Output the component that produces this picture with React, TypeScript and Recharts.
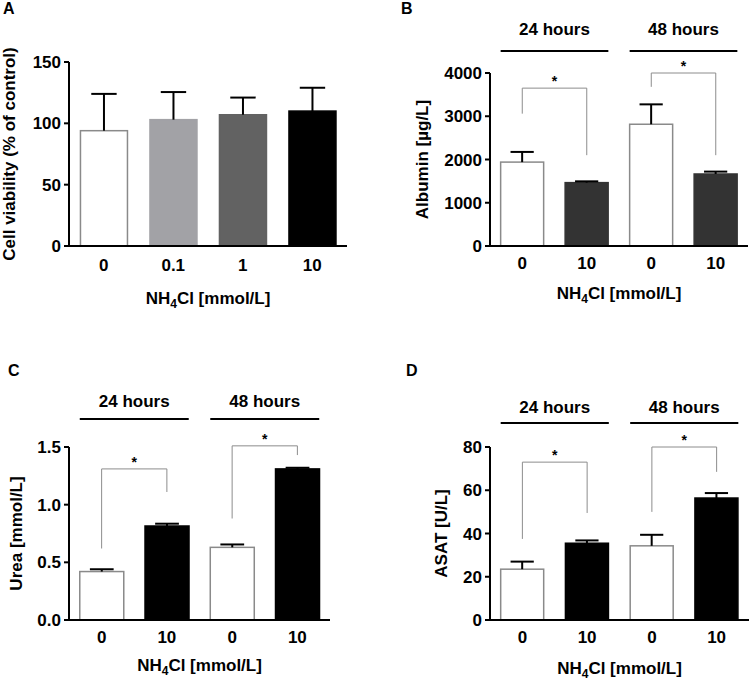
import React from 'react';
import { BarChart, Bar, XAxis, YAxis, ReferenceLine, Cell } from 'recharts';

const FONT = '"Liberation Sans", Arial, Helvetica, sans-serif';

// A: cell viability
const doseLabels = ['0', '0.1', '1', '10'];
const viabilityMean = [94, 103, 107, 110];
const viabilitySd = [30, 22.5, 14, 19];
const viabilityTicks = [0, 50, 100, 150];
const viabilityColors = ['#ffffff', '#a2a2a6', '#626262', '#000000'];

// B-D: two time points, control vs 10 mmol/L
const barIds = ['g1c', 'g1t', 'g2c', 'g2t'];
const nh4Labels = ['0', '10', '0', '10'];
const timeGroups = ['24 hours', '24 hours', '48 hours', '48 hours'];

const albuminMean = [1940, 1465, 2815, 1665];
const albuminSd = [235, 30, 460, 55];
const albuminTicks = [0, 1000, 2000, 3000, 4000];
const albuminColors = ['#ffffff', '#333333', '#ffffff', '#333333'];

const ureaMean = [0.42, 0.815, 0.63, 1.31];
const ureaSd = [0.02, 0.02, 0.025, 0.01];
const ureaTicks = [0, 0.5, 1.0, 1.5];

const asatMean = [23.5, 35.5, 34.3, 56.4];
const asatSd = [3.5, 1.3, 5.1, 2.3];
const asatTicks = [0, 20, 40, 60, 80];

const bwColors = ['#ffffff', '#000000', '#ffffff', '#000000'];

// significance brackets: top of bracket, end of left leg, end of right leg
type Sig = { from: string; to: string; top: number; left: number; right: number };
const albuminSig: Sig[] = [
  { from: 'g1c', to: 'g1t', top: 3650, left: 3060, right: 2100 },
  { from: 'g2c', to: 'g2t', top: 4000, left: 3680, right: 2100 },
];
const ureaSig: Sig[] = [
  { from: 'g1c', to: 'g1t', top: 1.31, left: 0.62, right: 1.11 },
  { from: 'g2c', to: 'g2t', top: 1.51, left: 0.88, right: 1.43 },
];
const asatSig: Sig[] = [
  { from: 'g1c', to: 'g1t', top: 73, left: 37.5, right: 49.5 },
  { from: 'g2c', to: 'g2t', top: 80, left: 50, right: 68.5 },
];

const buildRows = (ids: string[], labels: string[], mean: number[], sd: number[], groups?: string[]) =>
  ids.map((id, i) => ({ id, label: labels[i], mean: mean[i], sd: sd[i], group: groups ? groups[i] : '' }));

const viabilityData = buildRows(doseLabels, doseLabels, viabilityMean, viabilitySd);
const albuminData = buildRows(barIds, nh4Labels, albuminMean, albuminSd, timeGroups);
const ureaData = buildRows(barIds, nh4Labels, ureaMean, ureaSd, timeGroups);
const asatData = buildRows(barIds, nh4Labels, asatMean, asatSd, timeGroups);

const BarWithError = (props: any) => {
  const { x, y, width, height, payload, fill } = props;
  const perUnit = payload.mean ? height / payload.mean : 0;
  const top = y - payload.sd * perUnit;
  const cx = x + width / 2;
  const cap = width * 0.27;
  const white = fill === '#ffffff';
  return (
    <g>
      <rect x={x} y={y} width={width} height={height} fill={fill} stroke={white ? '#8a8a8a' : fill} strokeWidth={1.5} />
      <line x1={cx} x2={cx} y1={y} y2={top} stroke="#000" strokeWidth={2} />
      <line x1={cx - cap} x2={cx + cap} y1={top} y2={top} stroke="#000" strokeWidth={2} />
    </g>
  );
};

const GroupTick = (props: any) => {
  const { x, y, payload, half, textDy, lineDy } = props;
  return (
    <g>
      <text x={x} y={y + textDy} textAnchor="middle" fontFamily={FONT} fontWeight="bold" fontSize={17} fill="#000">
        {payload.value}
      </text>
      <line x1={x - half} x2={x + half} y1={y + lineDy} y2={y + lineDy} stroke="#000" strokeWidth={2} />
    </g>
  );
};

interface PanelProps {
  width: number;
  height: number;
  data: any[];
  colors: string[];
  ticks: number[];
  tickFmt?: (v: number) => string;
  yLabel: string;
  yLabelOffset: number;
  xLabelDy: number;
  xTickMargin: number;
  margin: { top: number; right: number; bottom: number; left: number };
  yAxisWidth: number;
  groups?: { textDy: number; lineDy: number };
  sig?: Sig[];
}

const tickStyle = { fill: '#000', fontSize: 17, fontWeight: 'bold', fontFamily: FONT };

const Panel = (p: PanelProps) => {
  const plotW = p.width - p.margin.left - p.margin.right - p.yAxisWidth;
  const labelOf: Record<string, string> = {};
  p.data.forEach((d) => (labelOf[d.id] = d.label));
  const bracket = { stroke: '#8c8c8c', strokeWidth: 1, ifOverflow: 'visible' as const, isFront: true };
  return (
    <BarChart width={p.width} height={p.height} data={p.data} margin={p.margin} barCategoryGap="16.5%">
      {p.groups && (
        <XAxis
          xAxisId="grp"
          orientation="top"
          dataKey="group"
          allowDuplicatedCategory={false}
          axisLine={false}
          tickLine={false}
          tickSize={0}
          tickMargin={0}
          height={50}
          interval={0}
          tick={(t: any) => <GroupTick {...t} half={(plotW / 4) * 0.835} textDy={p.groups!.textDy} lineDy={p.groups!.lineDy} />}
        />
      )}
      <XAxis
        dataKey="id"
        tickFormatter={(v: string) => labelOf[v]}
        axisLine={{ stroke: '#000', strokeWidth: 2 }}
        tickLine={false}
        tickSize={6}
        tickMargin={p.xTickMargin}
        height={30}
        interval={0}
        tick={tickStyle}
        label={(l: any) => {
          const vb = l.viewBox;
          return (
            <text x={vb.x + vb.width / 2} y={vb.y + p.xLabelDy} textAnchor="middle" fontFamily={FONT} fontWeight="bold" fontSize={17} fill="#000">
              <tspan>NH</tspan>
              <tspan fontSize={12} dy={4}>4</tspan>
              <tspan dy={-4}>Cl [mmol/L]</tspan>
            </text>
          );
        }}
      />
      <YAxis
        domain={[0, p.ticks[p.ticks.length - 1]]}
        ticks={p.ticks}
        tickFormatter={p.tickFmt}
        allowDataOverflow
        interval={0}
        width={p.yAxisWidth}
        axisLine={{ stroke: '#000', strokeWidth: 2 }}
        tickLine={{ stroke: '#000', strokeWidth: 2 }}
        tickSize={5}
        tickMargin={3}
        tick={tickStyle}
        label={(l: any) => {
          const vb = l.viewBox;
          const cx = vb.x + vb.width - p.yLabelOffset;
          const cy = vb.y + vb.height / 2;
          return (
            <text x={cx} y={cy} transform={`rotate(-90, ${cx}, ${cy})`} textAnchor="middle" fontFamily={FONT} fontWeight="bold" fontSize={17} fill="#000">
              {p.yLabel}
            </text>
          );
        }}
      />
      <Bar dataKey="mean" isAnimationActive={false} shape={(s: any) => <BarWithError {...s} />}>
        {p.data.map((d, i) => (
          <Cell key={d.id} fill={p.colors[i]} />
        ))}
      </Bar>
      {(p.sig || []).map((s, i) => [
        <ReferenceLine
          key={`h${i}`}
          segment={[{ x: s.from, y: s.top }, { x: s.to, y: s.top }]}
          {...bracket}
          label={{ value: '*', position: 'top', offset: 2, fontSize: 14, fontWeight: 'bold', fill: '#000', fontFamily: FONT }}
        />,
        <ReferenceLine key={`l${i}`} segment={[{ x: s.from, y: s.left }, { x: s.from, y: s.top }]} {...bracket} />,
        <ReferenceLine key={`r${i}`} segment={[{ x: s.to, y: s.right }, { x: s.to, y: s.top }]} {...bracket} />,
      ])}
    </BarChart>
  );
};

const letter = (ch: string, left: number, top: number) => (
  <div style={{ position: 'absolute', left, top, fontSize: 16, lineHeight: '16px', fontWeight: 'bold', fontFamily: FONT }}>{ch}</div>
);

export default function App() {
  return (
    <div style={{ position: 'absolute', left: 0, top: 0, width: 750, height: 680, background: '#fff', fontFamily: FONT }}>
      <div style={{ position: 'absolute', left: 0, top: 0 }}>
        <Panel
          width={375}
          height={320}
          data={viabilityData}
          colors={viabilityColors}
          ticks={viabilityTicks}
          yLabel="Cell viability (% of control)"
          yLabelOffset={54}
          xLabelDy={58}
          xTickMargin={7}
          margin={{ top: 62, right: 28, bottom: 44, left: 0 }}
          yAxisWidth={69}
        />
      </div>
      <div style={{ position: 'absolute', left: 375, top: 0 }}>
        <Panel
          width={375}
          height={320}
          data={albuminData}
          colors={albuminColors}
          ticks={albuminTicks}
          yLabel="Albumin [µg/L]"
          yLabelOffset={62}
          xLabelDy={53}
          xTickMargin={5}
          margin={{ top: 23, right: 2, bottom: 44, left: 0 }}
          yAxisWidth={115}
          groups={{ textDy: -38, lineDy: -22 }}
          sig={albuminSig}
        />
      </div>
      <div style={{ position: 'absolute', left: 0, top: 330 }}>
        <Panel
          width={375}
          height={350}
          data={ureaData}
          colors={bwColors}
          ticks={ureaTicks}
          tickFmt={(v) => v.toFixed(1)}
          yLabel="Urea [mmol/L]"
          yLabelOffset={47}
          xLabelDy={51}
          xTickMargin={5}
          margin={{ top: 67, right: 45, bottom: 30, left: 0 }}
          yAxisWidth={69}
          groups={{ textDy: -40, lineDy: -28 }}
          sig={ureaSig}
        />
      </div>
      <div style={{ position: 'absolute', left: 375, top: 330 }}>
        <Panel
          width={375}
          height={350}
          data={asatData}
          colors={bwColors}
          ticks={asatTicks}
          yLabel="ASAT [U/L]"
          yLabelOffset={43}
          xLabelDy={54}
          xTickMargin={5}
          margin={{ top: 67, right: 1, bottom: 30, left: 0 }}
          yAxisWidth={115}
          groups={{ textDy: -34, lineDy: -24 }}
          sig={asatSig}
        />
      </div>
      {letter('A', 3, 1)}
      {letter('B', 401, 1)}
      {letter('C', 8, 363)}
      {letter('D', 406, 363)}
    </div>
  );
}
